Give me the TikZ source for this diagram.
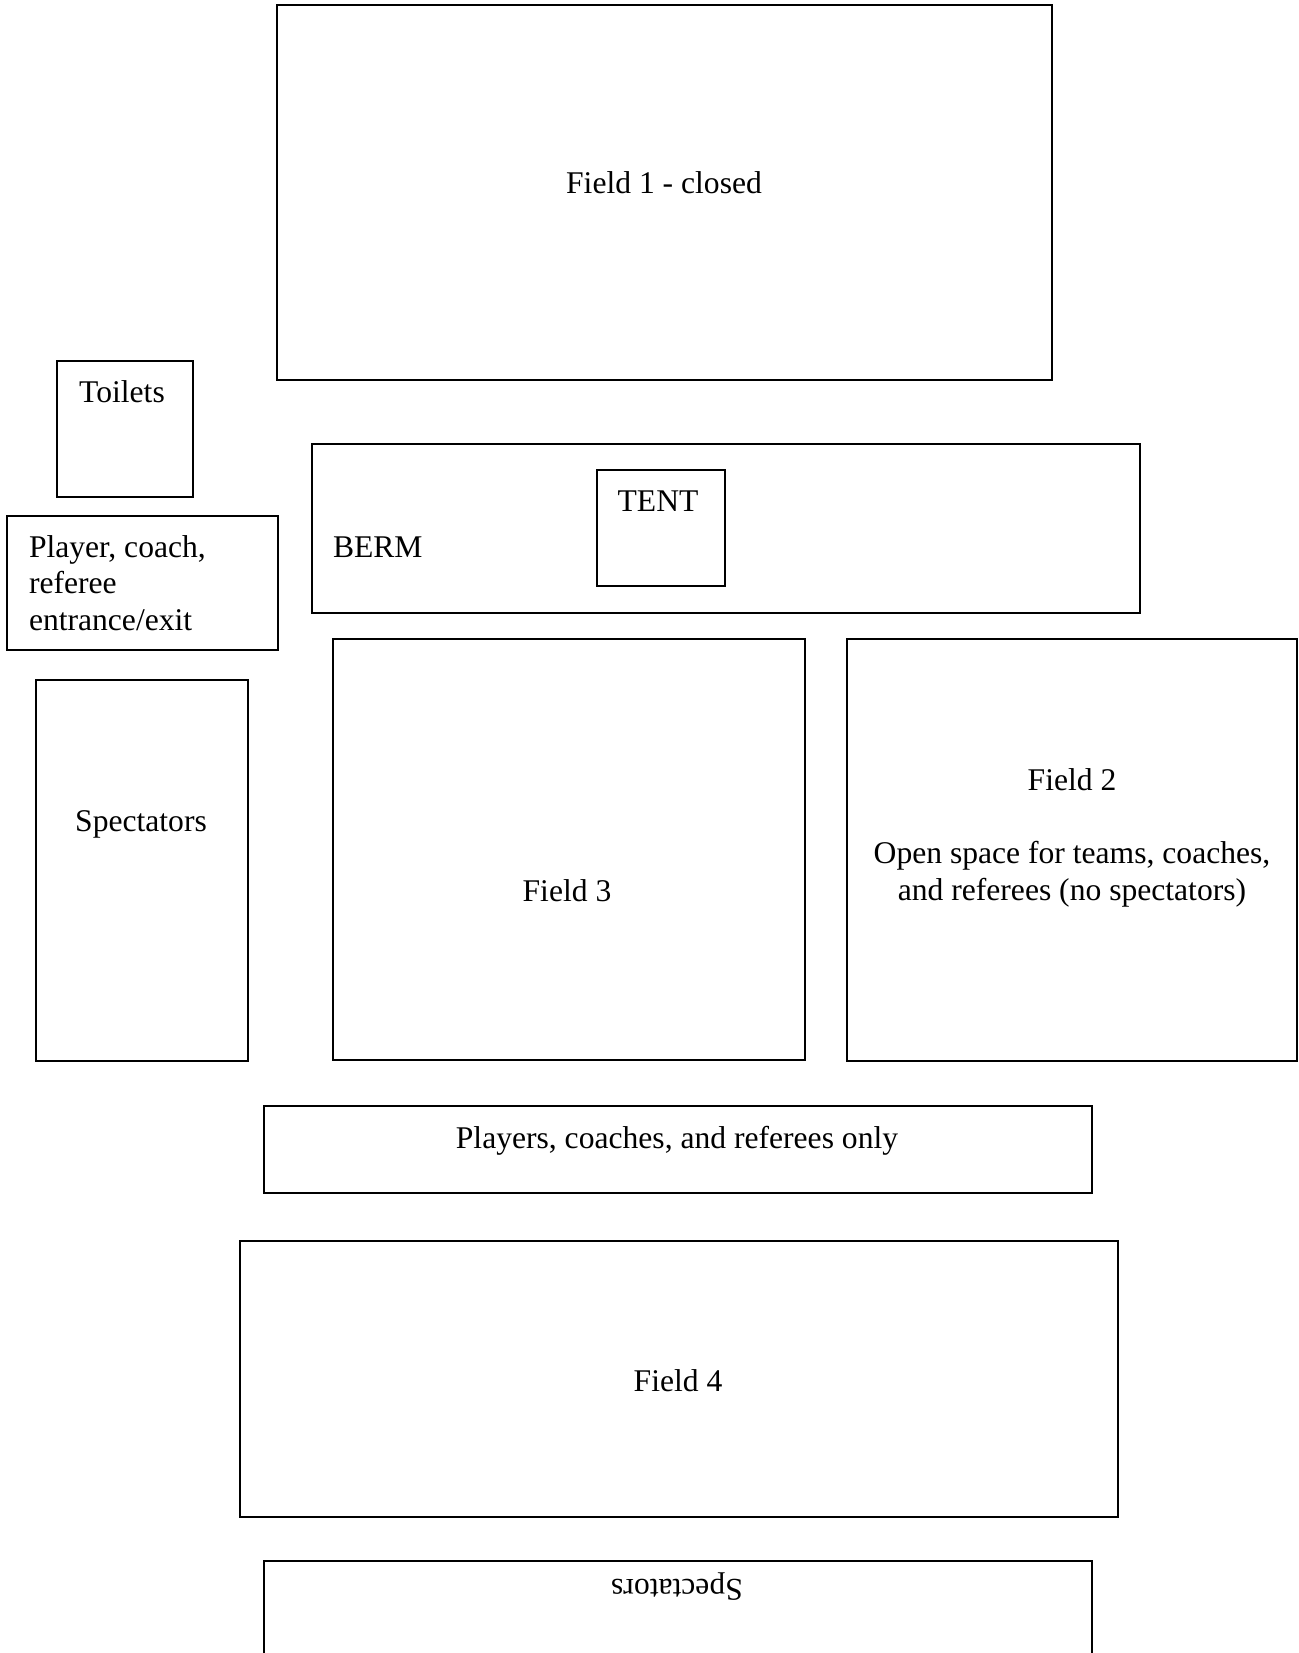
\documentclass[tikz,border=0pt]{standalone}
\usepackage{fontspec}
\setmainfont{Liberation Serif}
\usepackage{tikz}

\begin{document}
\begin{tikzpicture}[x=0.5pt, y=-0.5pt, line width=1pt,
    font=\fontsize{15.8}{18.25}\selectfont]
    \tikzstyle{area}=[draw=black, fill=white]
    \tikzstyle{label}=[inner sep=0pt, text=black]

    \useasboundingbox (0,0) rectangle (1299,1653);

    % Define the areas
    \draw[area] (277,5) rectangle (1052,380);
    \draw[area] (57,361) rectangle (193,497);
    \draw[area] (7,516) rectangle (278,650);
    \draw[area] (312,444) rectangle (1140,613);
    \draw[area] (597,470) rectangle (725,586);
    \draw[area] (36,680) rectangle (248,1061);
    \draw[area] (333,639) rectangle (805,1060);
    \draw[area] (847,639) rectangle (1297,1061);
    \draw[area] (264,1106) rectangle (1092,1193);
    \draw[area] (240,1241) rectangle (1118,1517);
    \draw (264,1653) |- (1092,1561) -- (1092,1653);

    % Put the labels in
    \node[label] (field1) at (664,183) {Field 1 - closed};
    \node[label] (toilets) at (122,392) {Toilets};
    \node[label, anchor=west, align=left] (entry) at (28,583) {Player, coach,\\referee\\entrance/exit};
    \node[label, anchor=west] (berm) at (332,547) {BERM};
    \node[label] (tent) at (658,501) {TENT};
    \node[label] (spec1) at (141,824) {Spectators};
    \node[label] (field3) at (567,891) {Field 3};
    \node[label, align=center] (field2) at (1072,838) {Field 2\\[18.25pt]Open space for teams, coaches,\\and referees (no spectators)};
    \node[label] (only) at (677,1141) {Players, coaches, and referees only};
    \node[label] (field4) at (678,1381) {Field 4};
    \node[label, rotate=180] (spec2) at (677,1587) {Spectators};

\end{tikzpicture}
\end{document}
